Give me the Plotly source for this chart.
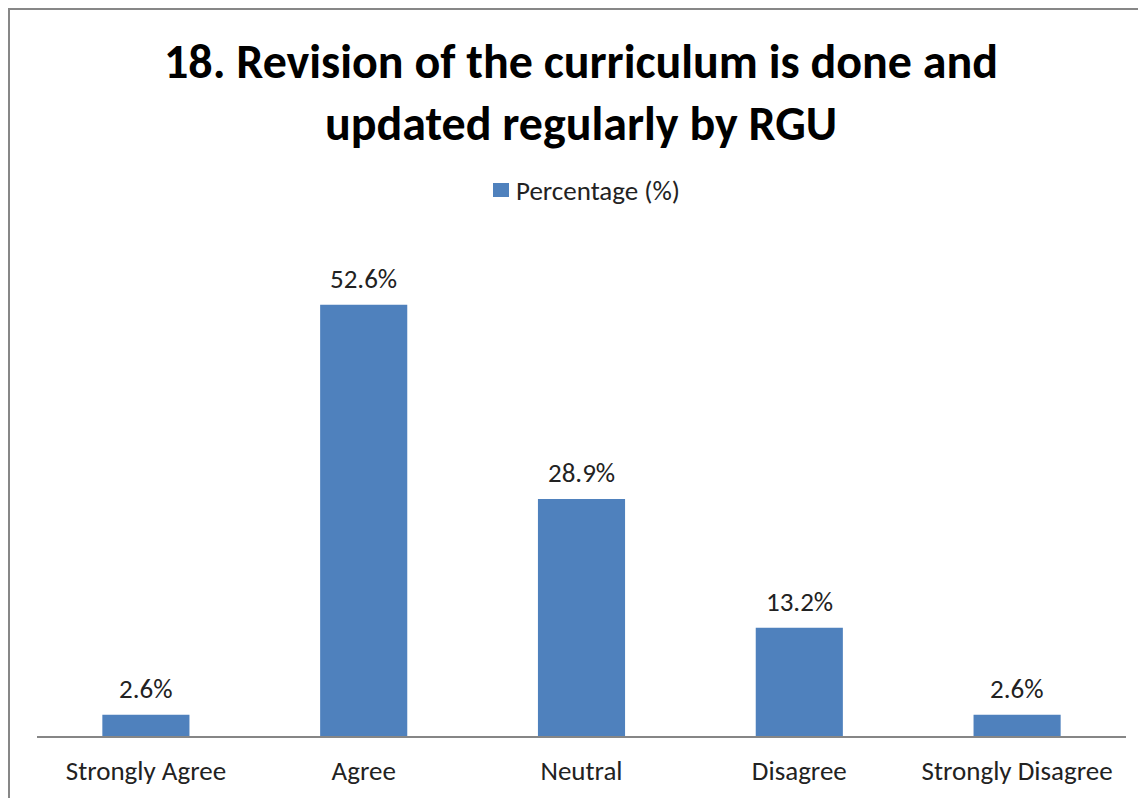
import plotly.graph_objects as go

categories = ["Strongly Agree", "Agree", "Neutral", "Disagree", "Strongly Disagree"]
values = [2.6, 52.6, 28.9, 13.2, 2.6]
labels = ["2.6%", "52.6%", "28.9%", "13.2%", "2.6%"]
series_name = "Percentage (%)"
title_lines = ["18. Revision of the curriculum is done and", "updated regularly by RGU"]

FONT = "Carlito, Calibri, Lato, sans-serif"
TXT = "#222222"
W, H = 1138, 790
# figure coords (page has an 8px body margin)
ml, mr, mt, mb = 29, 20, 222, 62

pw = W - ml - mr
ph = H - mt - mb
def px(x):
    return (x - ml) / pw
def py(y):
    return (H - mb - y) / ph

fig = go.Figure()
fig.add_trace(go.Bar(
    x=categories, y=values, name=series_name,
    marker=dict(color="#4F81BD", line=dict(width=0)),
    showlegend=False,
))

for c, v, t in zip(categories, values, labels):
    fig.add_annotation(x=c, y=v, text=t, showarrow=False, xref="x", yref="y",
                       yanchor="bottom", yshift=8,
                       font=dict(family=FONT, size=27, color=TXT))

# title
fig.add_annotation(text="<br>".join(title_lines), xref="paper", yref="paper",
                   x=px(573), y=py(22),
                   xanchor="center", yanchor="top", showarrow=False, align="center",
                   font=dict(family=FONT, size=48, color="#000000", weight="bold"))

# legend (manual)
fig.add_shape(type="rect", xref="paper", yref="paper",
              x0=px(485), x1=px(501), y0=py(189), y1=py(175),
              fillcolor="#4F81BD", line=dict(width=0))
fig.add_annotation(text=series_name, xref="paper", yref="paper",
                   x=px(506), y=py(182), xanchor="left", yanchor="middle",
                   showarrow=False, font=dict(family=FONT, size=27, color=TXT))

# chart border
fig.add_shape(type="line", xref="paper", yref="paper",
              x0=px(1), x1=px(1), y0=py(0), y1=py(H + 5), line=dict(color="#878787", width=2))
fig.add_shape(type="line", xref="paper", yref="paper",
              x0=px(0), x1=px(W + 5), y0=py(1), y1=py(1), line=dict(color="#878787", width=2))

fig.update_layout(
    width=W, height=H,
    margin=dict(l=ml, r=mr, t=mt, b=mb),
    paper_bgcolor="white", plot_bgcolor="white",
    bargap=0.6,
    font=dict(family=FONT, size=27, color=TXT),
    xaxis=dict(showline=True, linecolor="#868686", linewidth=1.5, ticks="",
               showgrid=False, ticklabelstandoff=10,
               tickfont=dict(family=FONT, size=27, color=TXT)),
    yaxis=dict(range=[0, ph / 8.2], visible=False, showgrid=False, zeroline=False),
)

fig.write_html("out.html")
